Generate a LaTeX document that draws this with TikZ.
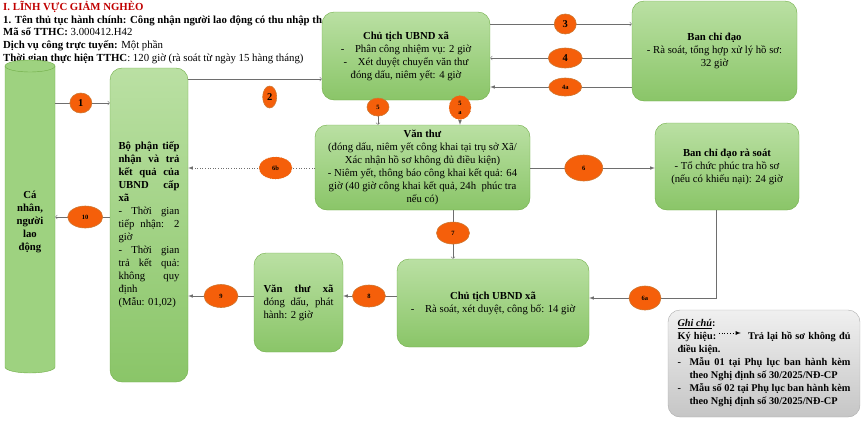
\documentclass[tikz,border=0pt]{standalone}
\usepackage{fontspec}
\setmainfont{Liberation Serif}
\usetikzlibrary{shapes.geometric}
\definecolor{boxtop}{RGB}{186,224,163}
\definecolor{boxbot}{RGB}{138,197,104}
\definecolor{boxline}{RGB}{112,173,71}
\definecolor{cylfill}{RGB}{158,210,128}
\definecolor{badgefill}{RGB}{245,95,10}
\definecolor{badgeline}{RGB}{205,120,50}
\definecolor{titlered}{RGB}{192,0,0}
\definecolor{flowline}{RGB}{110,110,110}
\newcommand{\jl}[2][61pt]{\makebox[#1][s]{#2}}

\begin{document}
\begin{tikzpicture}[x=1pt, y=-1pt,
    box/.style={draw=boxline, rounded corners=12pt, top color=boxtop, bottom color=boxbot, align=center, inner sep=2pt, font=\fontsize{10.7}{13}\selectfont},
    legendbox/.style={draw=gray!65, rounded corners=12pt, top color=gray!12, bottom color=gray!45, align=left, inner sep=3pt, font=\bfseries\fontsize{10.3}{13}\selectfont},
    head/.style={anchor=base west, inner sep=0pt, font=\fontsize{10.8}{12}\selectfont},
    badge/.style={ellipse, draw=badgeline, fill=badgefill, inner sep=0pt, minimum width=33pt, minimum height=22pt, font=\bfseries\fontsize{6.5}{7}\selectfont},
    bigbadge/.style={badge, minimum width=22pt, minimum height=20pt, font=\bfseries\fontsize{10.5}{11}\selectfont},
    flow/.style={draw=flowline, line width=0.6pt}]
    \useasboundingbox (0,0) rectangle (863,424);

    % header
    \node[head, text=titlered, font=\bfseries\fontsize{10.8}{12}\selectfont] (linhvuc) at (3,10) {I. LĨNH VỰC GIẢM NGHÈO};
    \node[head] (tentt) at (3,23) {\textbf{1. Tên thủ tục hành chính: Công nhận người lao động có thu nhập th}};
    \node[head] (maso)  at (3,35) {\textbf{Mã số TTHC:} 3.000412.H42};
    \node[head] (dvc)   at (3,48) {\textbf{Dịch vụ công trực tuyến:} Một phần};
    \node[head] (tgian) at (3,61) {\textbf{Thời gian thực hiện TTHC}: 120 giờ (rà soát từ ngày 15 hàng tháng)};

    % cylinder
    \filldraw[draw=boxline, fill=cylfill] (5,66) -- (5,367) arc[start angle=180, end angle=360, x radius=25pt, y radius=6pt] -- (55,66) arc[start angle=0, end angle=180, x radius=25pt, y radius=6pt] -- cycle;
    \draw[boxline] (5,66) arc[start angle=180, end angle=360, x radius=25pt, y radius=6pt];
    \node[minimum width=50pt, minimum height=313pt, inner sep=0pt, align=center, font=\bfseries\fontsize{10.7}{13}\selectfont] (canhan) at (30,222) {Cá\\nhân,\\người\\lao\\động};

    \node[box, minimum width=78pt, minimum height=314pt, align=left] (bophan) at (149,225) {\textbf{\jl{Bộ phận tiếp}}\\\textbf{\jl{nhận và trả}}\\\textbf{\jl{kết quả của}}\\\textbf{\jl{UBND cấp}}\\\textbf{xã}\\\jl{- Thời gian}\\\jl{tiếp nhận: 2}\\giờ\\\jl{- Thời gian}\\\jl{trả kết quả:}\\\jl{không quy}\\định\\(Mẫu: 01,02)};
    \node[box, minimum width=168pt, minimum height=88pt] (ubnd) at (406,56) {\textbf{Chủ tịch UBND xã}\\-\quad Phân công nhiệm vụ: 2 giờ\\-\quad Xét duyệt chuyển văn thư\\đóng dấu, niêm yết: 4 giờ};
    \node[box, minimum width=165pt, minimum height=100pt] (bcd) at (714.5,51) {\textbf{Ban chỉ đạo}\\- Rà soát, tổng hợp xử lý hồ sơ:\\32 giờ};
    \node[box, minimum width=215pt, minimum height=85pt] (vanthu) at (422.5,167.5) {\textbf{Văn thư}\\(đóng dấu, niêm yết công khai tại trụ sở Xã/\\Xác nhận hồ sơ không đủ điều kiện)\\- Niêm yết, thông báo công khai kết quả: 64\\giờ (40 giờ công khai kết quả, 24h\ \ phúc tra\\nếu có)};
    \node[box, minimum width=144pt, minimum height=87pt] (bcdrs) at (727,166.5) {\textbf{Ban chỉ đạo rà soát}\\- Tổ chức phúc tra hồ sơ\\(nếu có khiếu nại): 24 giờ};
    \node[box, minimum width=192pt, minimum height=88pt] (ubnd2) at (493,303) {\textbf{Chủ tịch UBND xã}\\-\quad Rà soát, xét duyệt, công bố: 14 giờ};
    \node[box, minimum width=89pt, minimum height=99pt, align=left] (vtx) at (298.5,302.5) {\textbf{\jl[70pt]{Văn thư xã}}\\\jl[70pt]{đóng dấu, phát}\\hành: 2 giờ};

    % legend
    \node[legendbox, minimum width=192pt, minimum height=107pt] (legend) at (764,363.5) {\underline{\textit{Ghi chú}}:\\\jl[173pt]{Ký hiệu:\hspace{32pt}Trả lại hồ sơ không đủ}\\điều kiện.\\\makebox[12pt][l]{-}\jl[161pt]{Mẫu 01 tại Phụ lục ban hành kèm}\\\hspace*{12pt}theo Nghị định số 30/2025/NĐ-CP\\\makebox[12pt][l]{-}\jl[161pt]{Mẫu số 02 tại Phụ lục ban hành kèm}\\\hspace*{12pt}theo Nghị định số 30/2025/NĐ-CP};
    \draw[dotted, thick, -latex] ([xshift=51pt]legend.west |- 0,333) -- ++(22pt,0);

    \draw[flow, ->] (canhan.east |- 0,103) -- node[bigbadge, pos=0.47] (s1) {1} (bophan.west |- 0,103);
    \draw[flow, ->] (bophan.east |- 0,79) -- node[bigbadge, pos=0.61, yshift=-18pt, minimum width=14pt, minimum height=22pt] (s2) {2} (ubnd.west |- 0,79);
    \draw[flow, ->] (ubnd.east |- 0,24) -- node[bigbadge, pos=0.53] (s3) {3} (bcd.west |- 0,24);
    \draw[flow, ->] (bcd.west |- 0,58) -- node[bigbadge, pos=0.47, minimum width=34pt] (s4) {4} (ubnd.east |- 0,58);
    \draw[flow, -latex] (bcd.west |- 0,87) -- node[badge, pos=0.47, minimum height=18pt] (s4a) {4a} (ubnd.east |- 0,87);
    \draw[flow, ->] (ubnd.south -| 378,0) -- node[badge, pos=0.28, minimum width=22pt, minimum height=18pt] (s5) {5} (vanthu.north -| 378,0);
    \draw[flow, dotted, -latex] (ubnd.south -| 460,0) -- node[badge, pos=0.3, minimum width=22pt, minimum height=24pt, align=center, font=\bfseries\fontsize{6.5}{9}\selectfont] (s5a) {5\\a} (vanthu.north -| 460,0);
    \draw[flow, -latex] (vanthu.east |- 0,168) -- node[badge, pos=0.43, minimum width=38pt, minimum height=26pt] (s6) {6} (bcdrs.west |- 0,168);
    \draw[flow, -latex] (bcdrs.south -| 716,0) |- node[badge, pos=0.78, minimum width=32pt, minimum height=24pt] (s6a) {6a} (ubnd2.east |- 0,298);
    \draw[flow, dotted, -latex] (vanthu.west |- 0,168) -- node[badge, pos=0.31] (s6b) {6b} (bophan.east |- 0,168);
    \draw[flow, ->] (vanthu.south -| 453,0) -- node[badge, pos=0.47] (s7) {7} (ubnd2.north -| 453,0);
    \draw[flow, -latex] (ubnd2.west |- 0,296) -- node[badge, pos=0.52] (s8) {8} (vtx.east |- 0,296);
    \draw[flow, -latex] (vtx.west |- 0,296) -- node[badge, pos=0.5, minimum width=34pt, minimum height=23pt] (s9) {9} (bophan.east |- 0,296);
    \draw[flow, ->] (bophan.west |- 0,217) -- node[badge, pos=0.45, minimum width=35pt] (s10) {10} (canhan.east |- 0,217);
\end{tikzpicture}
\end{document}
